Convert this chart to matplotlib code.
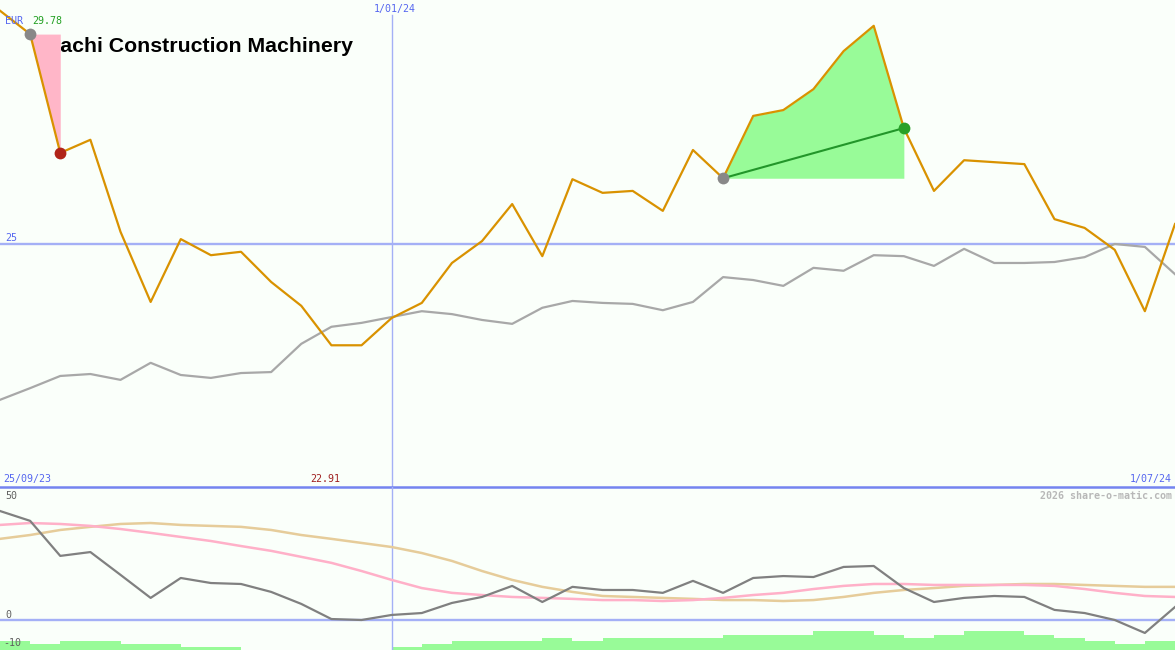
import matplotlib.pyplot as plt
from matplotlib.transforms import Bbox

title = 'Hitachi Construction Machinery'
start_label = '25/09/23'
mid_label = '1/01/24'
end_label = '1/07/24'

price = [29.78, 29.30, 26.86, 27.13, 25.24, 23.80, 25.09, 24.76, 24.83, 24.21,
         23.72, 22.91, 22.91, 23.47, 23.78, 24.60, 25.05, 25.81, 24.74, 26.32,
         26.04, 26.08, 25.67, 26.92, 26.34, 27.62, 27.74, 28.17, 28.95, 29.47,
         27.37, 26.08, 26.71, 26.67, 26.63, 25.50, 25.32, 24.87, 23.61, 25.40]
index_line = [21.79, 22.03, 22.28, 22.32, 22.20, 22.55, 22.30, 22.24, 22.34, 22.36,
              22.94, 23.29, 23.37, 23.49, 23.61, 23.55, 23.43, 23.35, 23.68, 23.82,
              23.78, 23.76, 23.63, 23.80, 24.31, 24.25, 24.13, 24.50, 24.44, 24.76,
              24.74, 24.54, 24.89, 24.60, 24.60, 24.62, 24.72, 24.99, 24.93, 24.37]
osc = [45.4, 41.3, 26.7, 28.3, 18.8, 9.2, 17.5, 15.4, 15.0, 11.7,
       6.7, 0.4, 0.0, 2.1, 2.9, 7.1, 9.6, 14.2, 7.5, 13.8,
       12.5, 12.5, 11.3, 16.3, 11.3, 17.5, 18.3, 17.9, 22.1, 22.5,
       13.3, 7.5, 9.2, 10.0, 9.6, 4.2, 2.9, 0.0, -5.4, 5.4]
osc_pink = [39.6, 40.4, 40.0, 39.2, 37.9, 36.3, 34.6, 32.9, 30.8, 28.8,
            26.3, 23.8, 20.4, 16.7, 13.3, 11.3, 10.4, 9.6, 9.2, 8.8,
            8.3, 8.3, 7.9, 8.3, 9.2, 10.4, 11.3, 12.9, 14.2, 15.0,
            15.0, 14.6, 14.6, 14.6, 14.6, 14.2, 12.9, 11.3, 10.0, 9.6]
osc_tan = [33.8, 35.4, 37.5, 38.8, 40.0, 40.4, 39.6, 39.2, 38.8, 37.5,
           35.4, 33.8, 32.1, 30.4, 27.9, 24.6, 20.4, 16.7, 13.8, 11.7,
           10.0, 9.6, 9.2, 8.8, 8.3, 8.3, 7.9, 8.3, 9.6, 11.3,
           12.5, 13.3, 14.2, 14.6, 15.0, 15.0, 14.6, 14.2, 13.8, 13.8]
hist = [3.75, 2.5, 3.75, 3.75, 2.5, 2.5, 1.25, 1.25, 0, 0,
        0, 0, 0, 1.25, 2.5, 3.75, 3.75, 3.75, 5, 3.75,
        5, 5, 5, 5, 6.25, 6.25, 6.25, 7.9, 7.9, 6.25,
        5, 6.25, 7.9, 7.9, 6.25, 5, 3.75, 2.5, 3.75]

sell_from, sell_to = 1, 2
buy_from, buy_to = 24, 30
mid_idx = 13

bg = '#fafffa'
blue_lt = '#a4b0f6'
blue_dk = '#7484f0'
blue_txt = '#5566f0'

W, H = 1175, 650
fig = plt.figure(figsize=(W / 100, H / 100), dpi=100, facecolor=bg)
x = list(range(len(price)))

# price panel
ax = fig.add_axes([0, 1 - 487 / H, 1, 487 / H])
ax.set_facecolor(bg)
ax.set_xlim(0, len(price) - 1)
ax.set_ylim(20, 30)
ax.axis('off')
ax.axhline(25, color=blue_lt, lw=1.7, zorder=1)
ax.axvline(mid_idx, ymin=0, ymax=1 - 15 / 487, color=blue_lt, lw=1, zorder=1)
ax.plot(x, index_line, color='#a8a8a8', lw=1.6, zorder=2)

p0 = price[sell_from]
ax.fill_between([sell_from, sell_to], [p0, p0], [p0, price[sell_to]],
                color='#ffb6c8', lw=0, zorder=3)
xs = x[buy_from:buy_to + 1]
ax.fill_between(xs, price[buy_from:buy_to + 1], price[buy_from],
                color='#98fb98', lw=0, zorder=3)
ax.plot([buy_from, buy_to], [price[buy_from], price[buy_to]], color='#22962a', lw=1.5, zorder=4)
ax.plot(x, price, color='#d99200', lw=1.6, zorder=5)
ax.plot([sell_from, buy_from], [price[sell_from], price[buy_from]], 'o',
        color='#888888', ms=8.5, zorder=6, mec='none')
ax.plot([sell_to], [price[sell_to]], 'o', color='#b02418', ms=8.5, zorder=6, mec='none')
ax.plot([buy_to], [price[buy_to]], 'o', color='#28a028', ms=8.5, zorder=6, mec='none')

# oscillator panel
ax2 = fig.add_axes([0, 0, 1, 163 / H])
ax2.set_facecolor(bg)
ax2.set_xlim(0, len(price) - 1)
ax2.set_ylim(-12.5, 55.4)
ax2.axis('off')
ax2.bar(x[:-1], hist, width=1, align='edge', bottom=-12.5, color='#98fb98', lw=0, zorder=1)
ax2.axhline(0, color=blue_lt, lw=1.7, zorder=2)
ax2.axhline(55.4, color=blue_dk, lw=1.8, zorder=2, clip_on=False)
ax2.axvline(mid_idx, color=blue_lt, lw=1, zorder=2)
ax2.plot(x, osc_tan, color='#e6cc9a', lw=1.8, zorder=3)
ax2.plot(x, osc_pink, color='#ffb0c8', lw=1.8, zorder=3)
ax2.plot(x, osc, color='#808080', lw=1.6, zorder=4)


def label(px, py, s, color, ha='left', **kw):
    fig.text(px / W, 1 - py / H, s, color=color, ha=ha, va='center',
             family='DejaVu Sans Mono', fontsize=7.2, **kw)


label(5, 21, 'EUR', blue_txt)
label(32, 21, f'{max(price):.2f}', '#22a022')
label(395, 9, mid_label, blue_txt, ha='center')
label(5, 238, '25', blue_txt)
label(3, 479, start_label, blue_txt)
label(325, 479, f'{min(price):.2f}', '#a02020', ha='center')
label(1172, 479, end_label, blue_txt, ha='right')
label(1172, 496, '2026 share-o-matic.com', '#b8b8b8', ha='right', fontweight='bold')
label(5, 496, '50', '#606060')
label(5, 615, '0', '#606060')
label(3, 643, '-10', '#606060')

t = fig.text(353 / W, 1 - 52 / H, title, ha='right', va='baseline',
             family='Liberation Sans', fontweight='bold', fontsize=15.3, color='black')
t.set_clip_box(Bbox.from_extents(61, 0, W, H))
t.set_clip_on(True)

fig.savefig('out.png', dpi=100, facecolor=bg)
